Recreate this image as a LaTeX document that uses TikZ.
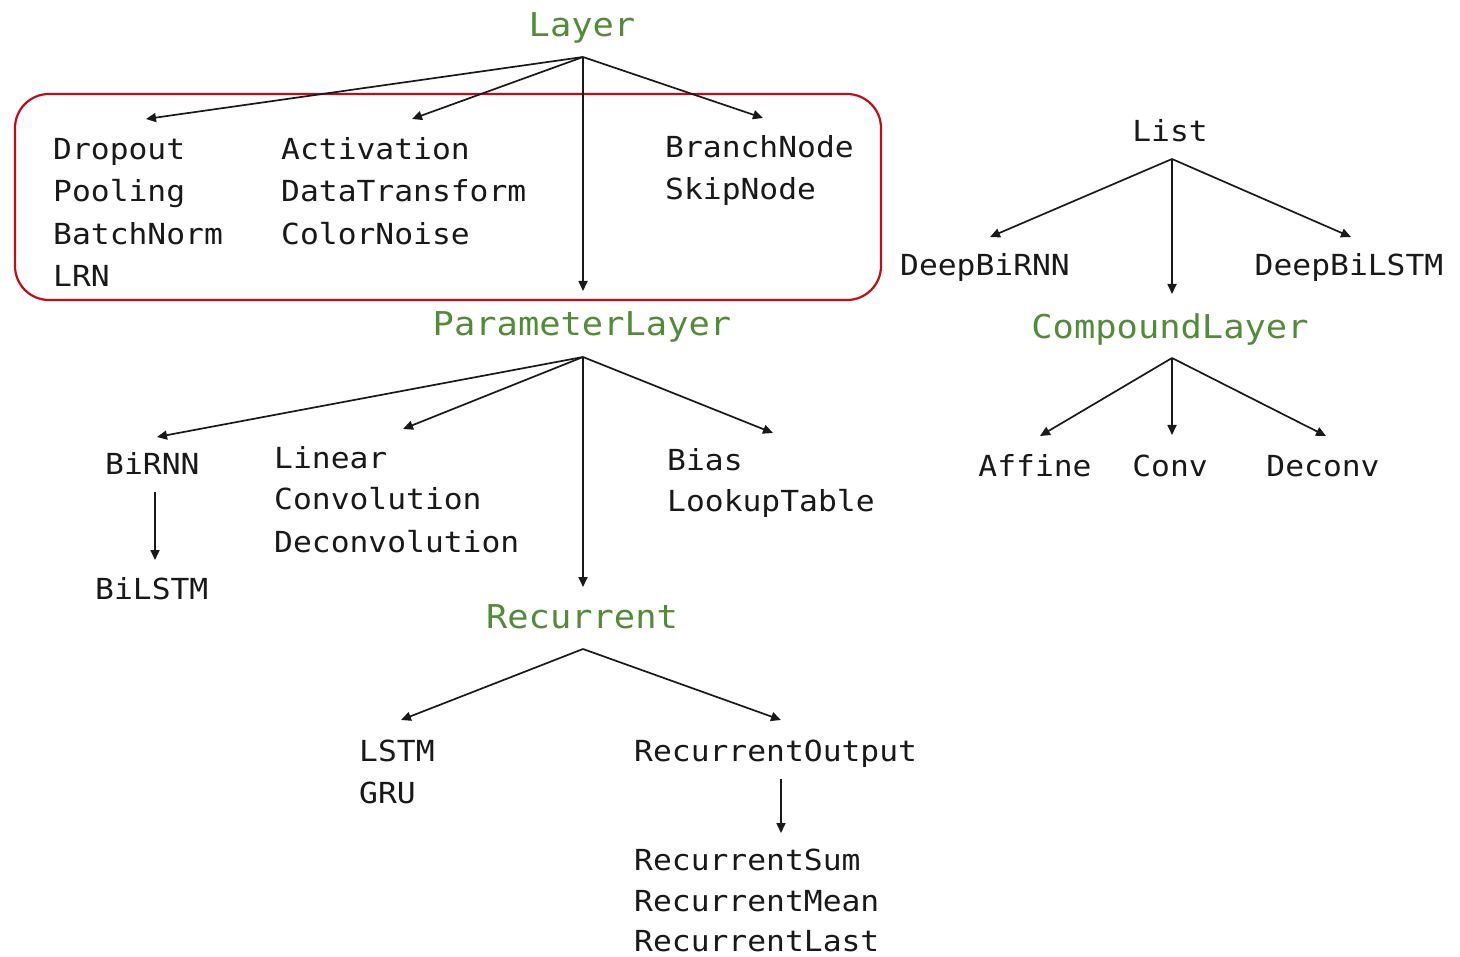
\documentclass[tikz,border=0pt]{standalone}
\usepackage{fontspec}
\usetikzlibrary{arrows.meta}
\newfontfamily\codefont[FakeStretch=1.08]{DejaVu Sans Mono}
\definecolor{classgreen}{RGB}{82,140,56}
\definecolor{groupred}{RGB}{196,12,22}
\definecolor{ink}{RGB}{25,25,25}
\tikzset{
  item/.style={anchor=base west, inner sep=0pt, yshift=-1.5pt, text=ink, font=\codefont\fontsize{29}{29}\selectfont},
  base/.style={anchor=base, inner sep=0pt, yshift=-1.5pt, text=classgreen, font=\codefont\fontsize{32.8}{32.8}\selectfont},
  leaf/.style={anchor=base, inner sep=0pt, yshift=-1.5pt, text=ink, font=\codefont\fontsize{29}{29}\selectfont},
  link/.style={draw=ink, line width=1.7pt, -{Triangle[length=10pt,width=9pt]}},
}
\begin{document}
\begin{tikzpicture}[x=1pt, y=-1pt]
\useasboundingbox (0,0) rectangle (1460,957);

% grouping frame of the plain layers
\draw[groupred, line width=2.2pt, rounded corners=34pt] (15,94) rectangle (881,300);

% ---- Layer and its direct subclasses
\node[base] (layer) at (582,35) {Layer};
\coordinate (layer-out) at (583,57);

\node[item] (dropout)   at (53,158) {Dropout};
\node[item] (pooling)   at (53,200) {Pooling};
\node[item] (batchnorm) at (53,243) {BatchNorm};
\node[item] (lrn)       at (53,285) {LRN};

\node[item] (activation)    at (281,158) {Activation};
\node[item] (datatransform) at (281,200) {DataTransform};
\node[item] (colornoise)    at (281,243) {ColorNoise};

\node[item] (branchnode) at (665,156) {BranchNode};
\node[item] (skipnode)   at (665,198) {SkipNode};

\coordinate (to-dropout)    at (146,119);
\coordinate (to-activation) at (412,119);
\coordinate (to-branch)     at (763,118);
\coordinate (to-param)      at (583,291);

\draw[link] (layer-out) -- (to-dropout);
\draw[link] (layer-out) -- (to-activation);
\draw[link] (layer-out) -- (to-param);
\draw[link] (layer-out) -- (to-branch);

% ---- ParameterLayer
\node[base] (param) at (582,334) {ParameterLayer};
\coordinate (param-out) at (583,357);

\node[item] (birnn)  at (105,473) {BiRNN};
\node[item] (bilstm) at (95,598) {BiLSTM};

\node[item] (linear)        at (274,467) {Linear};
\node[item] (convolution)   at (274,508) {Convolution};
\node[item] (deconvolution) at (274,551) {Deconvolution};

\node[item] (bias)        at (667,469) {Bias};
\node[item] (lookuptable) at (667,510) {LookupTable};

\coordinate (to-birnn)  at (157,437);
\coordinate (to-linear) at (403,429);
\coordinate (to-bias)   at (773,433);
\coordinate (to-rec)    at (583,587);

\draw[link] (param-out) -- (to-birnn);
\draw[link] (param-out) -- (to-linear);
\draw[link] (param-out) -- (to-rec);
\draw[link] (param-out) -- (to-bias);

\coordinate (birnn-out) at (155,492);
\coordinate (to-bilstm) at (155,560);
\draw[link] (birnn-out) -- (to-bilstm);

% ---- Recurrent
\node[base] (recurrent) at (582,627) {Recurrent};
\coordinate (rec-out) at (583,649);

\node[item] (lstm) at (359,760) {LSTM};
\node[item] (gru)  at (359,802) {GRU};

\node[item] (recout)  at (634,760) {RecurrentOutput};
\node[item] (recsum)  at (634,869) {RecurrentSum};
\node[item] (recmean) at (634,910) {RecurrentMean};
\node[item] (reclast) at (634,950) {RecurrentLast};

\coordinate (to-lstm)   at (401,720);
\coordinate (to-recout) at (781,720);
\draw[link] (rec-out) -- (to-lstm);
\draw[link] (rec-out) -- (to-recout);

\coordinate (recout-out) at (781,779);
\coordinate (to-recsum)  at (781,833);
\draw[link] (recout-out) -- (to-recsum);

% ---- List and CompoundLayer
\node[leaf] (list) at (1170,140) {List};
\coordinate (list-out) at (1172,159);

\node[leaf] (deepbirnn)  at (985,274) {DeepBiRNN};
\node[leaf] (deepbilstm) at (1349,274) {DeepBiLSTM};

\coordinate (to-deepbirnn)  at (990,237);
\coordinate (to-compound)   at (1172,294);
\coordinate (to-deepbilstm) at (1351,237);
\draw[link] (list-out) -- (to-deepbirnn);
\draw[link] (list-out) -- (to-compound);
\draw[link] (list-out) -- (to-deepbilstm);

\node[base] (compound) at (1170,337) {CompoundLayer};
\coordinate (compound-out) at (1172,358);

\node[leaf] (affine) at (1035,475) {Affine};
\node[leaf] (conv)   at (1170,475) {Conv};
\node[leaf] (deconv) at (1323,475) {Deconv};

\coordinate (to-affine) at (1040,436);
\coordinate (to-conv)   at (1172,435);
\coordinate (to-deconv) at (1326,436);
\draw[link] (compound-out) -- (to-affine);
\draw[link] (compound-out) -- (to-conv);
\draw[link] (compound-out) -- (to-deconv);
\end{tikzpicture}
\end{document}
